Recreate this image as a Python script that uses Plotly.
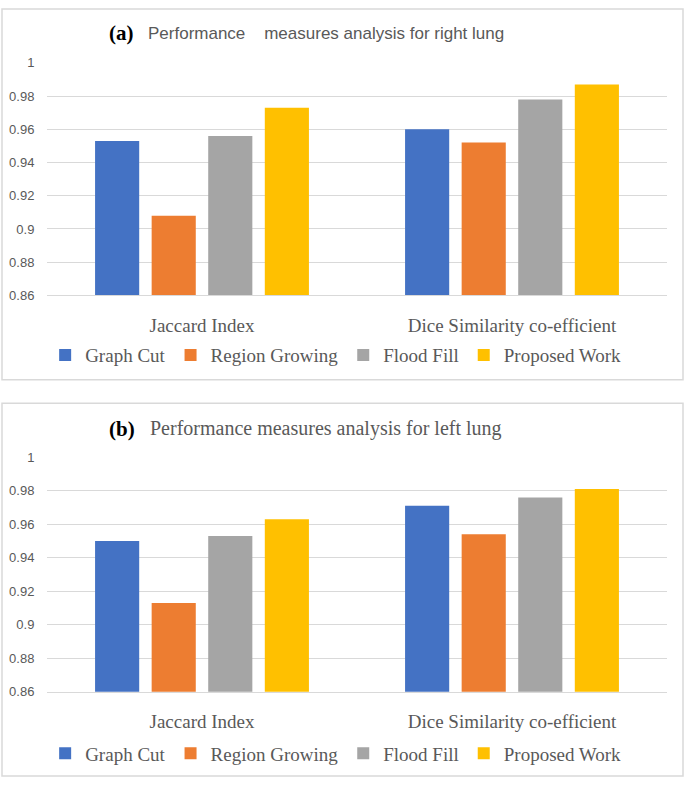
import plotly.graph_objects as go

# Daten
categories = ["Jaccard Index", "Dice Similarity co-efficient"]
methods = ["Graph Cut", "Region Growing", "Flood Fill", "Proposed Work"]
colors = ["#4472C4", "#ED7D31", "#A5A5A5", "#FFC000"]

right_lung = {
    "Graph Cut": [0.953, 0.960],
    "Region Growing": [0.908, 0.952],
    "Flood Fill": [0.956, 0.978],
    "Proposed Work": [0.973, 0.987],
}
left_lung = {
    "Graph Cut": [0.950, 0.971],
    "Region Growing": [0.913, 0.954],
    "Flood Fill": [0.953, 0.976],
    "Proposed Work": [0.963, 0.981],
}

y_ticks = [0.86, 0.88, 0.9, 0.92, 0.94, 0.96, 0.98, 1]

W, H = 685, 786
grey_text = "#595959"
grid = "#D9D9D9"
serif = "Liberation Serif"
sans = "Liberation Sans"


def py(px):
    # Pixel von oben -> Papierkoordinate
    return 1 - px / H


fig = go.Figure()

for i, m in enumerate(methods):
    fig.add_trace(go.Bar(
        x=categories, y=right_lung[m], name=m,
        marker=dict(color=colors[i], line=dict(width=0)),
        xaxis="x", yaxis="y", legend="legend",
    ))
    fig.add_trace(go.Bar(
        x=categories, y=left_lung[m], name=m,
        marker=dict(color=colors[i], line=dict(width=0)),
        xaxis="x2", yaxis="y2", legend="legend2",
    ))

x_dom = [47 / W, 667 / W]
yaxis_common = dict(
    range=[0.86, 1.0], tickvals=y_ticks, ticktext=[f"{v:g}" for v in y_ticks],
    showgrid=True, gridcolor=grid, gridwidth=1, zeroline=False,
    showline=False, tickfont=dict(family=sans, size=13, color=grey_text),
    ticks="outside", ticklen=9, tickcolor="rgba(0,0,0,0)", fixedrange=True,
)
xaxis_common = dict(
    showline=True, linecolor=grid, linewidth=1, showgrid=False,
    tickfont=dict(family=serif, size=19, color=grey_text),
    ticks="outside", ticklen=13, tickcolor="rgba(0,0,0,0)",
    domain=x_dom, fixedrange=True,
)

legend_common = dict(
    orientation="h", xanchor="center", x=0.49, yanchor="middle",
    font=dict(family=serif, size=19, color=grey_text),
    bgcolor="rgba(0,0,0,0)", itemwidth=30, tracegroupgap=0,
)

fig.update_layout(
    width=W, height=H,
    margin=dict(l=0, r=0, t=0, b=0),
    paper_bgcolor="white", plot_bgcolor="white",
    barmode="group", bargap=0.27, bargroupgap=0.22,
    xaxis=dict(xaxis_common, anchor="y"),
    yaxis=dict(yaxis_common, domain=[py(294), py(57)], anchor="x"),
    xaxis2=dict(xaxis_common, anchor="y2"),
    yaxis2=dict(yaxis_common, domain=[py(698), py(459)], anchor="x2"),
    legend=dict(legend_common, y=py(355)),
    legend2=dict(legend_common, y=py(761)),
    shapes=[
        dict(type="rect", xref="paper", yref="paper",
             x0=2 / W, x1=683 / W, y0=py(380), y1=py(2),
             line=dict(color=grid, width=1.5)),
        dict(type="rect", xref="paper", yref="paper",
             x0=2 / W, x1=683 / W, y0=py(784), y1=py(404),
             line=dict(color=grid, width=1.5)),
    ],
    annotations=[
        dict(text="<b>(a)</b>", x=107 / W, y=py(27), xref="paper", yref="paper",
             xanchor="left", yanchor="middle", showarrow=False,
             font=dict(family=serif, size=21, color="black")),
        dict(text="Performance&nbsp;&nbsp;&nbsp;&nbsp;measures analysis for right lung",
             x=146 / W, y=py(27), xref="paper", yref="paper",
             xanchor="left", yanchor="middle", showarrow=False,
             font=dict(family=sans, size=17, color=grey_text)),
        dict(text="<b>(b)</b>", x=107 / W, y=py(430), xref="paper", yref="paper",
             xanchor="left", yanchor="middle", showarrow=False,
             font=dict(family=serif, size=21, color="black")),
        dict(text="Performance measures analysis for left lung",
             x=148 / W, y=py(430), xref="paper", yref="paper",
             xanchor="left", yanchor="middle", showarrow=False,
             font=dict(family=serif, size=20, color=grey_text)),
    ],
)

# Browser-Standardrand und Scrollbalken entfernen, damit die Grafik bündig sitzt
page_fix = ("document.body.style.margin='0';"
            "document.documentElement.style.overflow='hidden';"
            "document.body.style.overflow='hidden';")
fig.write_html("out.html", config={"displayModeBar": False}, post_script=page_fix)
